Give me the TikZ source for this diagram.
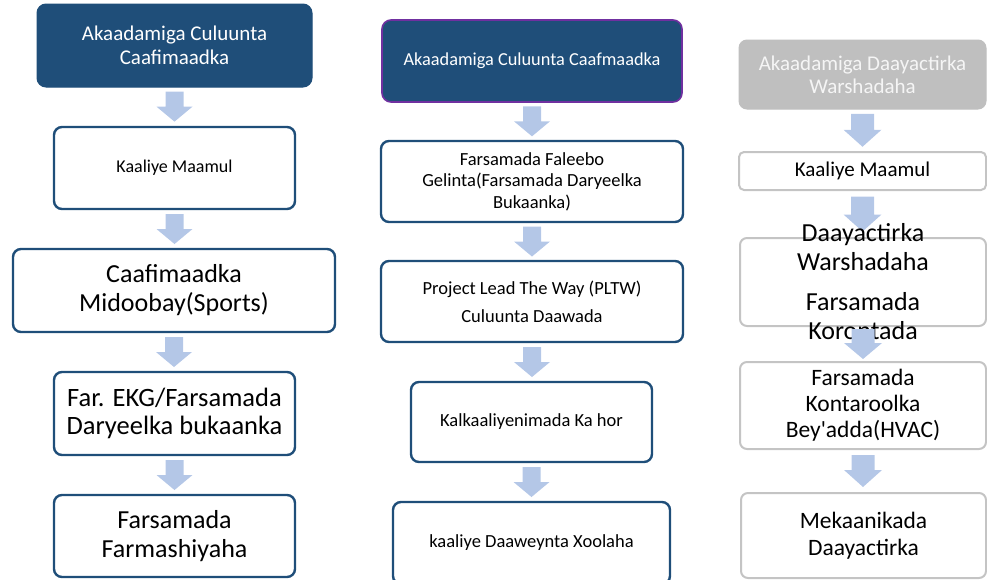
\documentclass[tikz,border=0pt]{standalone}
\usepackage{fontspec}
\setmainfont{Carlito}[Ligatures=TeXOff]
\usetikzlibrary{calc}
\definecolor{navy}{RGB}{31,78,121}
\definecolor{purp}{RGB}{112,48,160}
\definecolor{arrowcol}{RGB}{180,199,231}
\definecolor{grayfill}{RGB}{191,191,191}
\definecolor{grayline}{RGB}{196,196,196}
\newcommand{\bx}[7]{%
  \pgfmathsetmacro\cxx{(#3+#5)/2}%
  \pgfmathsetmacro\cyy{-(#4+#6)/2}%
  \pgfmathsetmacro\ww{#5-#3}%
  \pgfmathsetmacro\hh{#6-#4}%
  \node[#2, minimum width=\ww pt, minimum height=\hh pt] (#1) at (\cxx,\cyy) {#7};}
% #1 from, #2 to, #3 length, #4 shaft half, #5 head half, #6 head length
\newcommand{\barrow}[6]{%
  \fill[arrowcol] let \p1=(#1.south), \p2=(#2.north), \n1={(\y1+\y2)/2} in
   (\x1-#4, \n1+#3/2) -- (\x1+#4, \n1+#3/2) -- (\x1+#4, \n1-#3/2+#6)
   -- (\x1+#5, \n1-#3/2+#6) -- (\x1, \n1-#3/2) -- (\x1-#5, \n1-#3/2+#6)
   -- (\x1-#4, \n1-#3/2+#6) -- cycle;}
\tikzset{
  hdrbox/.style={fill=navy, draw=navy, line width=1pt, rounded corners=9pt, inner sep=0pt, align=center, text=white},
  hdrboxp/.style={fill=navy, draw=purp, line width=1.6pt, rounded corners=9pt, inner sep=0pt, align=center, text=white},
  hdrgray/.style={fill=grayfill, draw=grayfill, line width=1pt, rounded corners=8pt, inner sep=0pt, align=center, text=white!96!black},
  bluebox/.style={fill=white, draw=navy, line width=2.4pt, rounded corners=8pt, inner sep=0pt, align=center, text=black},
  graybox/.style={fill=white, draw=grayline, line width=2pt, rounded corners=7pt, inner sep=0pt, align=center, text=black},
  plaintext/.style={inner sep=0pt, align=center, text=black}
}
\begin{document}
\begin{tikzpicture}[x=1pt,y=1pt]
\useasboundingbox (0,0) rectangle (987,-579);
% ---------- column 1 ----------
\bx{h1}{hdrbox, font=\fontsize{21}{24}\selectfont}{37}{4}{312}{87}{Akaadamiga Culuunta\\Caafimaadka}
\bx{b12}{bluebox, font=\fontsize{18}{21}\selectfont}{54}{127}{295}{209}{Kaaliye Maamul}
\bx{b13}{bluebox, font=\fontsize{26}{29}\selectfont}{13}{249}{335}{332}{Caafimaadka\\Midoobay(Sports)}
\bx{b14}{bluebox, font=\fontsize{26.5}{28.5}\selectfont}{54}{372}{295}{455}{Far. EKG/Farsamada\\Daryeelka bukaanka}
\bx{b15}{bluebox, font=\fontsize{26}{28.5}\selectfont}{54}{495}{295}{577}{Farsamada\\Farmashiyaha}
% ---------- column 2 ----------
\bx{h2}{hdrboxp, font=\fontsize{18.3}{21}\selectfont}{382}{20}{682}{102}{Akaadamiga Culuunta Caafmaadka}
\bx{b22}{bluebox, font=\fontsize{18.5}{21.5}\selectfont}{381}{141}{683}{222}{Farsamada Faleebo\\Gelinta(Farsamada Daryeelka\\Bukaanka)}
\bx{b23}{bluebox, font=\fontsize{18.5}{27.7}\selectfont}{381}{261}{683}{342}{Project Lead The Way (PLTW)\\Culuunta Daawada}
\bx{b24}{bluebox, font=\fontsize{18.5}{21.5}\selectfont}{411}{382}{652}{462}{Kalkaaliyenimada Ka hor}
\bx{b25}{bluebox, font=\fontsize{18.5}{21.5}\selectfont}{393}{502}{670}{584}{kaaliye Daaweynta Xoolaha}
% ---------- column 3 ----------
\bx{h3}{hdrgray, font=\fontsize{21}{23}\selectfont}{739}{40}{986}{109}{Akaadamiga Daayactirka\\Warshadaha}
\bx{b32}{graybox, rounded corners=5pt, font=\fontsize{21}{24}\selectfont}{739}{152}{986}{190}{Kaaliye Maamul}
\bx{b33}{graybox}{740}{238}{986}{326}{}
\bx{b34}{graybox, font=\fontsize{23.5}{26}\selectfont}{740}{362}{986}{449}{Farsamada\\Kontaroolka\\Bey'adda(HVAC)}
\bx{b35}{graybox, font=\fontsize{23.5}{27}\selectfont}{741}{493}{986}{578}{Mekaanikada\\Daayactirka}
% ---------- arrows ----------
\barrow{h1}{b12}{30}{9}{18}{15}
\barrow{b12}{b13}{30}{9}{18}{15}
\barrow{b13}{b14}{30}{9}{18}{15}
\barrow{b14}{b15}{30}{9}{18}{15}
\barrow{h2}{b22}{30}{9}{18}{15}
\barrow{b22}{b23}{30}{9}{18}{15}
\barrow{b23}{b24}{30}{9}{18}{15}
\barrow{b24}{b25}{30}{9}{18}{15}
\barrow{h3}{b32}{33}{11.5}{19}{17}
\barrow{b32}{b33}{35}{11.5}{19}{17}
\node[plaintext, font=\fontsize{26}{29}\selectfont] (b33t) at (b33) {Daayactirka\\Warshadaha\\[11pt]Farsamada\\Korontada};
\barrow{b33}{b34}{30}{11.5}{19}{16}
\barrow{b34}{b35}{32}{11.5}{19}{17}
\end{tikzpicture}
\end{document}
